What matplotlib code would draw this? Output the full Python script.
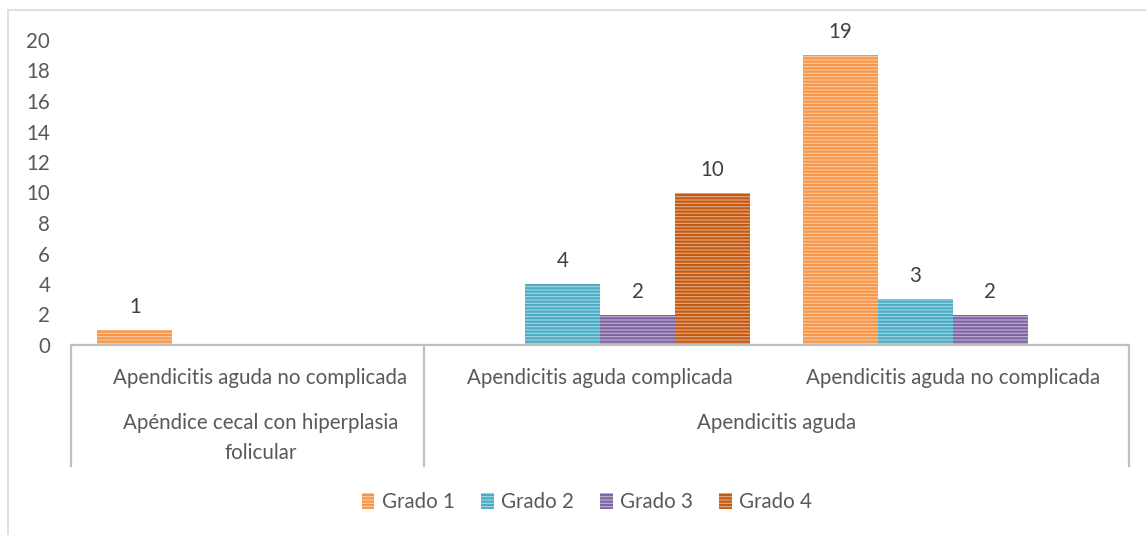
import matplotlib
matplotlib.use("Agg")
import matplotlib.pyplot as plt
from matplotlib.patches import Patch
from matplotlib.lines import Line2D
import matplotlib.transforms as mtransforms
import matplotlib.colors as mc

plt.rcParams['font.family'] = ['Lato', 'DejaVu Sans']
plt.rcParams['hatch.linewidth'] = 1.6

subcategories = ["Apendicitis aguda no complicada",
                 "Apendicitis aguda complicada",
                 "Apendicitis aguda no complicada"]
groups = ["Apéndice cecal con hiperplasia\nfolicular", "Apendicitis aguda"]
group_spans = [(0, 0), (1, 2)]
series_names = ["Grado 1", "Grado 2", "Grado 3", "Grado 4"]
grado1 = [1, 0, 19]
grado2 = [0, 4, 3]
grado3 = [0, 2, 2]
grado4 = [0, 10, 0]
series_values = [grado1, grado2, grado3, grado4]
colors = ["#F79646", "#4BACC6", "#8064A2", "#C55A11"]
yticks = [0, 2, 4, 6, 8, 10, 12, 14, 16, 18, 20]

W, H = 1146, 535
fig = plt.figure(figsize=(W / 100, H / 100), dpi=100)
ax = fig.add_axes([71 / W, 1 - 345 / H, 1058 / W, 305 / H])

def lighten(c, f):
    r, g, b = mc.to_rgb(c)
    return (r + (1 - r) * f, g + (1 - g) * f, b + (1 - b) * f)

text_color = "#595959"
fs = 14.8
bw = 0.2125
for j, (name, vals, col) in enumerate(zip(series_names, series_values, colors)):
    for i, v in enumerate(vals):
        if v == 0:
            continue
        x = i + (j - 1.5) * bw
        ax.bar(x, v, width=bw, facecolor=lighten(col, 0.5), edgecolor=col,
               hatch="-----", linewidth=0)
        ax.text(x, v + 1.5, str(v), ha="center", va="center",
                fontsize=fs, color="#404040")

ax.set_xlim(-0.5, len(subcategories) - 0.5)
ax.set_ylim(0, 20)
ax.set_yticks(yticks)
ax.set_yticklabels([str(t) for t in yticks])
ax.tick_params(axis="y", length=0, labelsize=fs, labelcolor=text_color, pad=15)
ax.set_xticks([])
for s in ["top", "right", "left"]:
    ax.spines[s].set_visible(False)
ax.spines["bottom"].set_color("#BFBFBF")
ax.spines["bottom"].set_linewidth(1.6)

trans = mtransforms.blended_transform_factory(ax.transData, ax.transAxes)
ax_h = 305.0
def yfrac(px):
    return -(px - 345) / ax_h

for xs in [-0.5, 0.5, len(subcategories) - 0.5]:
    ax.add_line(Line2D([xs, xs], [0, yfrac(466)], transform=trans,
                       color="#BFBFBF", linewidth=1.6, clip_on=False))

# first category labels sit slightly right of center in the reference
shift_first = mtransforms.ScaledTranslation(13 / 100, 0, fig.dpi_scale_trans)

for i, lab in enumerate(subcategories):
    t = trans + shift_first if i == 0 else trans
    ax.text(i, yfrac(378), lab, transform=t, ha="center", va="center",
            fontsize=fs, color=text_color)

for k, (lab, (a, b)) in enumerate(zip(groups, group_spans)):
    t = trans + shift_first if k == 0 else trans
    ax.text((a + b) / 2, yfrac(413), lab, transform=t, ha="center", va="top",
            fontsize=fs, color=text_color, linespacing=1.65)

handles = [Patch(facecolor=lighten(c, 0.5), edgecolor=c, hatch="-----", linewidth=0)
           for c in colors]
fig.legend(handles, series_names, loc="center", bbox_to_anchor=(587 / W, 1 - 502 / H),
           ncol=4, frameon=False, fontsize=fs, labelcolor=text_color,
           handlelength=0.6, handleheight=0.8, handletextpad=0.35, columnspacing=1.3)

fig.add_artist(Line2D([8 / W, 1], [1 - 10 / H, 1 - 10 / H], transform=fig.transFigure,
                      color="#D9D9D9", linewidth=1.2))
fig.add_artist(Line2D([8 / W, 8 / W], [0, 1 - 10 / H], transform=fig.transFigure,
                      color="#D9D9D9", linewidth=1.2))

fig.savefig("out.png", dpi=100, facecolor="white")
